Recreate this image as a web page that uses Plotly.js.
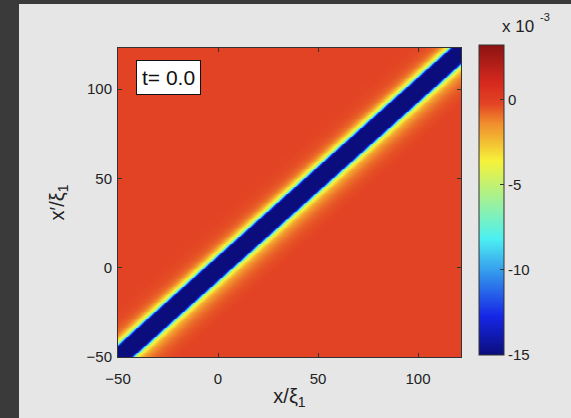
<!DOCTYPE html>
<html>
<head>
<meta charset="utf-8">
<script src="https://cdn.plot.ly/plotly-3.0.1.min.js"></script>
<style>
html,body{margin:0;padding:0;background:#3a3a3a;width:571px;height:418px;overflow:hidden;}
#chart{position:absolute;left:19px;top:4px;width:552px;height:414px;}
</style>
</head>
<body>
<div id="chart"></div>
<script>
// grid limits (units of xi_1)
var gridMin = -50;
var gridMax = 123;
// profile of the correlation (x 1e-3) vs distance d = x' - x
// upper-left side (x' > x), index = d
var profileUpper = [-16,-16,-16,-16,-16,-16,-14.5,-11,-6,-4,-3.3,-2.5,-1.8,-1.3,-1,-0.82,-0.68,-0.58,-0.5,-0.45,-0.4,-0.37,-0.34,-0.32,-0.3,-0.29,-0.28,-0.27,-0.26,-0.25,-0.25];
// lower-right side (x' < x), index = -d
var profileLower = [-16,-16,-16,-16,-16,-16,-14.5,-11,-6,-4,-3.4,-2.7,-2.1,-1.75,-1.45,-1.25,-1.1,-0.95,-0.82,-0.72,-0.63,-0.56,-0.5,-0.45,-0.4,-0.36,-0.33,-0.3,-0.28,-0.26,-0.25];
var background = -0.2;
var xTicks = [-50, 0, 50, 100];
var yTicks = [-50, 0, 50, 100];
var cbTicks = [-15, -10, -5, 0];
var cbLabels = ['-15', '-10', '-5', '0'];
var cMin = -15, cMax = 3.2;

var coords = [];
for (var v = gridMin; v <= gridMax; v++) coords.push(v);
var z = [];
for (var j = 0; j < coords.length; j++) {
  var row = [];
  for (var i = 0; i < coords.length; i++) {
    var d = coords[j] - coords[i];
    var val;
    if (d >= 0) val = d < profileUpper.length ? profileUpper[d] : background;
    else val = -d < profileLower.length ? profileLower[-d] : background;
    row.push(val);
  }
  z.push(row);
}

var jet = [
  [0, '#0b0d7c'], [0.125, '#1626e6'], [0.375, '#4cf0f2'],
  [0.625, '#f6f23a'], [0.75, '#f08a2c'], [0.81, '#e34424'],
  [0.875, '#d72a1e'], [1, '#8c1212']
];

var FAM = 'Liberation Sans, Arial, sans-serif';
var font = {family: FAM, size: 15, color: '#222'};

var trace = {
  type: 'heatmap', x: coords, y: coords, z: z,
  zmin: cMin, zmax: cMax, colorscale: jet, zsmooth: 'best',
  colorbar: {
    x: 1.0525, xanchor: 'left', xpad: 0, y: 0.508, yanchor: 'middle', ypad: 0,
    thickness: 25, thicknessmode: 'pixels', len: 310, lenmode: 'pixels',
    outlinewidth: 1, outlinecolor: '#333',
    tickvals: cbTicks, ticktext: cbLabels, ticks: 'inside', ticklen: 4, tickcolor: '#333',
    tickfont: font
  },
  hoverinfo: 'skip'
};

var layout = {
  width: 552, height: 414,
  margin: {l: 99, r: 110, t: 44, b: 61},
  paper_bgcolor: '#e6e6e6', plot_bgcolor: '#e6e6e6',
  font: font,
  xaxis: {
    range: [-50, 121.5], tickvals: xTicks, ticks: 'inside', ticklen: 4, tickcolor: '#333',
    showline: true, mirror: 'ticks', linecolor: '#333', linewidth: 1,
    showgrid: false, zeroline: false, tickfont: font, ticklabelstandoff: 8,
    title: {text: 'x/ξ<sub>1</sub>', font: {family: FAM, size: 20, color: '#222'}, standoff: 2}
  },
  yaxis: {
    range: [-50, 123], tickvals: yTicks, ticks: 'inside', ticklen: 4, tickcolor: '#333',
    showline: true, mirror: 'ticks', linecolor: '#333', linewidth: 1,
    showgrid: false, zeroline: false, tickfont: font, ticklabelstandoff: 2,
    title: {text: 'x′/ξ<sub>1</sub>', font: {family: FAM, size: 20, color: '#222'}, standoff: 16}
  },
  annotations: [
    {xref: 'paper', yref: 'paper', x: 0.0525, y: 0.961, xanchor: 'left', yanchor: 'top',
     text: 't= 0.0', showarrow: false, bgcolor: '#ffffff', bordercolor: '#111', borderwidth: 1, borderpad: 5,
     font: {family: FAM, size: 21, color: '#111'}},
    {xref: 'paper', yref: 'paper', x: 1.115, y: 1.068, xanchor: 'left', yanchor: 'middle',
     text: 'x 10', showarrow: false, font: {family: FAM, size: 17, color: '#222'}},
    {xref: 'paper', yref: 'paper', x: 1.245, y: 1.1, xanchor: 'center', yanchor: 'middle',
     text: '-3', showarrow: false, font: {family: FAM, size: 11, color: '#222'}}
  ]
};

Plotly.newPlot('chart', [trace], layout, {displayModeBar: false, staticPlot: true});
</script>
</body>
</html>
